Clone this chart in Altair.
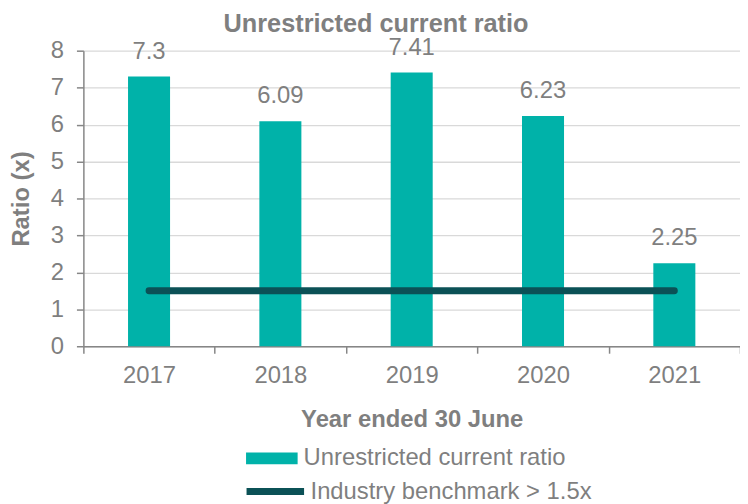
import altair as alt
import pandas as pd

years = ["2017", "2018", "2019", "2020", "2021"]
ratios = [7.3, 6.09, 7.41, 6.23, 2.25]
ratio_labels = ["7.3", "6.09", "7.41", "6.23", "2.25"]
benchmark = [1.5, 1.5, 1.5, 1.5, 1.5]
y_ticks = [0, 1, 2, 3, 4, 5, 6, 7, 8]
bar_series = "Unrestricted current ratio"
line_series = "Industry benchmark > 1.5x"

df = pd.DataFrame({
    "year": years,
    "ratio": ratios,
    "label": ratio_labels,
    "bench": benchmark,
    "series": [bar_series] * len(years),
    "bench_series": [line_series] * len(years),
})

GRAY = "#7F7F7F"
AXIS_GRAY = "#868686"
TEAL = "#00B2A9"
DARK = "#0B5156"
FONT = "Liberation Sans"

x = alt.X(
    "year:N",
    sort=years,
    scale=alt.Scale(paddingInner=0, paddingOuter=0),
    axis=alt.Axis(
        title="Year ended 30 June",
        labelAngle=0,
        tickBand="extent",
        grid=False,
        titlePadding=20,
        labelPadding=11,
    ),
)

y_scale = alt.Scale(domain=[0, 8], nice=False)
y_axis = alt.Axis(
    title="Ratio (x)",
    values=y_ticks,
    tickCount=20,
    format="d",
    grid=True,
    labelOverlap=False,
    labelPadding=13,
    titlePadding=17,
)

bars = alt.Chart(df).mark_bar(width=alt.RelativeBandSize(0.32)).encode(
    x=x,
    y=alt.Y("ratio:Q", scale=y_scale, axis=y_axis),
    fill=alt.Fill(
        "series:N",
        scale=alt.Scale(domain=[bar_series], range=[TEAL]),
        legend=alt.Legend(
            title=None,
            orient="none",
            legendX=164,
            legendY=385,
            symbolType="M-1,-0.23H1V0.23H-1Z",
            symbolSize=2704,
            symbolStrokeWidth=0,
            symbolOpacity=1,
            labelOffset=6,
            labelLimit=400,
        ),
    ),
)

line = alt.Chart(df).mark_line(strokeWidth=7, strokeCap="round").encode(
    x=x,
    y=alt.Y("bench:Q", scale=y_scale, axis=y_axis),
    stroke=alt.Stroke(
        "bench_series:N",
        scale=alt.Scale(domain=[line_series], range=[DARK]),
        legend=alt.Legend(
            title=None,
            orient="none",
            legendX=161,
            legendY=412,
            symbolType="stroke",
            symbolSize=3364,
            symbolStrokeWidth=7,
            labelOffset=3,
            labelLimit=400,
        ),
    ),
)

labels = alt.Chart(df).mark_text(
    dy=-18, baseline="alphabetic", fontSize=24, font=FONT, color=GRAY
).encode(x=x, y=alt.Y("ratio:Q", scale=y_scale, axis=y_axis), text="label:N")

chart = (
    alt.layer(bars, line, labels)
    .resolve_legend(fill="independent", stroke="independent")
    .properties(
        width=662,
        height=298,
        autosize="none",
        padding={"left": 76, "top": 41, "right": 0, "bottom": 157},
        title=alt.TitleParams(
            "Unrestricted current ratio",
            fontSize=25.5,
            font=FONT,
            fontWeight="bold",
            color=GRAY,
            anchor="middle",
            dx=-36,
            offset=-2,
        ),
    )
    .configure_view(stroke=None)
    .configure_axis(
        labelFont=FONT,
        labelFontSize=24,
        labelColor=GRAY,
        titleFont=FONT,
        titleFontSize=24,
        titleFontWeight="bold",
        titleColor=GRAY,
        domainColor=AXIS_GRAY,
        domainWidth=1.5,
        tickColor=AXIS_GRAY,
        tickWidth=1.5,
        tickSize=7,
        gridColor="#D9D9D9",
        gridWidth=1.3,
    )
    .configure_legend(
        labelFont=FONT,
        labelFontSize=24,
        labelColor=GRAY,
        padding=0,
    )
)

chart.save("out.html", embed_options={"renderer": "svg", "actions": False})
